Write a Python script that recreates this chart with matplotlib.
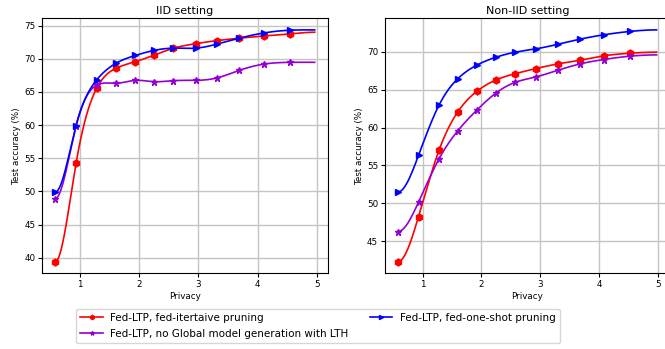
import numpy as np
import matplotlib
matplotlib.use("Agg")
import matplotlib.pyplot as plt

# ---- data ----
iid_x = [0.59, 0.94, 1.29, 1.62, 1.94, 2.26, 2.58, 2.96, 3.31, 3.69, 4.11, 4.54, 4.96]
iid_iter = [39.4, 54.25, 65.6, 68.6, 69.56, 70.57, 71.58, 72.28, 72.73, 73.1, 73.44, 73.74, 74.0]
iid_oneshot = [49.9, 59.9, 66.84, 69.36, 70.5, 71.27, 71.6, 71.6, 72.2, 73.1, 73.9, 74.3, 74.35]
iid_nolth = [48.9, 59.9, 66.04, 66.3, 66.74, 66.54, 66.7, 66.74, 67.1, 68.25, 69.2, 69.46, 69.46]

non_x = [0.58, 0.93, 1.28, 1.6, 1.93, 2.25, 2.58, 2.93, 3.3, 3.68, 4.08, 4.53, 4.98]
non_iter = [42.3, 48.26, 57.04, 62.1, 64.84, 66.3, 67.13, 67.8, 68.41, 68.9, 69.47, 69.82, 69.96]
non_oneshot = [51.5, 56.33, 62.99, 66.47, 68.28, 69.3, 69.96, 70.4, 71.0, 71.68, 72.25, 72.7, 72.9]
non_nolth = [46.28, 50.16, 55.89, 59.6, 62.37, 64.58, 65.99, 66.7, 67.57, 68.41, 68.99, 69.43, 69.6]

titles = ["IID setting", "Non-IID setting"]
labels = ["Fed-LTP, fed-itertaive pruning",
          "Fed-LTP, no Global model generation with LTH",
          "Fed-LTP, fed-one-shot pruning"]


def clamped_spline(x, y, n=400):
    x = np.asarray(x, float)
    y = np.asarray(y, float)
    m = len(x)
    h = np.diff(x)
    A = np.zeros((m, m))
    b = np.zeros(m)
    A[0, 0] = 2 * h[0]
    A[0, 1] = h[0]
    b[0] = 3 * ((y[1] - y[0]) / h[0])
    A[-1, -2] = h[-1]
    A[-1, -1] = 2 * h[-1]
    b[-1] = 3 * (0 - (y[-1] - y[-2]) / h[-1])
    for i in range(1, m - 1):
        A[i, i - 1] = h[i - 1]
        A[i, i] = 2 * (h[i - 1] + h[i])
        A[i, i + 1] = h[i]
        b[i] = 3 * ((y[i + 1] - y[i]) / h[i] - (y[i] - y[i - 1]) / h[i - 1])
    c = np.linalg.solve(A, b)
    xs = np.linspace(x[0], x[-1], n)
    idx = np.clip(np.searchsorted(x, xs) - 1, 0, m - 2)
    dx = xs - x[idx]
    bb = (y[idx + 1] - y[idx]) / h[idx] - h[idx] * (2 * c[idx] + c[idx + 1]) / 3
    d = (c[idx + 1] - c[idx]) / (3 * h[idx])
    ys = y[idx] + bb * dx + c[idx] * dx ** 2 + d * dx ** 3
    return xs, ys


fig = plt.figure(figsize=(6.65, 3.49), dpi=100)
W, H = 665, 349
ax1 = fig.add_axes([42.3 / W, (H - 273.3) / H, 285.4 / W, 255 / H])
ax2 = fig.add_axes([385 / W, (H - 273.3) / H, 284.5 / W, 255 / H])

styles = [("red", "h"), ("darkviolet", "*"), ("blue", ">")]
panels = [(ax1, iid_x, [iid_iter, iid_nolth, iid_oneshot]),
          (ax2, non_x, [non_iter, non_nolth, non_oneshot])]

handles = []
for k, (ax, xs, series) in enumerate(panels):
    for (col, mk), ys, lab in zip(styles, series, labels):
        sx, sy = clamped_spline(xs, ys)
        ax.plot(sx, sy, color=col, lw=1.2)
        ax.plot(xs[:-1], ys[:-1], color=col, marker=mk, ms=5, lw=0, zorder=3)
        if k == 0:
            h, = ax.plot([], [], color=col, marker=mk, ms=3, lw=1.2, label=lab)
            handles.append(h)
    ax.set_title(titles[k], fontsize=8, pad=3)
    ax.set_xlabel("Privacy", fontsize=6.3, labelpad=2)
    ax.set_ylabel("Test accuracy (%)", fontsize=6.3, labelpad=2)
    ax.tick_params(labelsize=6.3, length=3, pad=2)
    ax.grid(True, color="#c4c4c4", lw=1.0)
    ax.set_xticks([1, 2, 3, 4, 5])

ax1.set_yticks([40, 45, 50, 55, 60, 65, 70, 75])
ax2.set_yticks([45, 50, 55, 60, 65, 70])

fig.legend(handles=handles, loc="lower center", bbox_to_anchor=(0.478, 0.003),
           ncol=2, fontsize=7.5, frameon=True, columnspacing=2.0, handlelength=2.2,
           handletextpad=0.7, borderpad=0.4, labelspacing=0.55)

fig.savefig("out.png", dpi=100)
